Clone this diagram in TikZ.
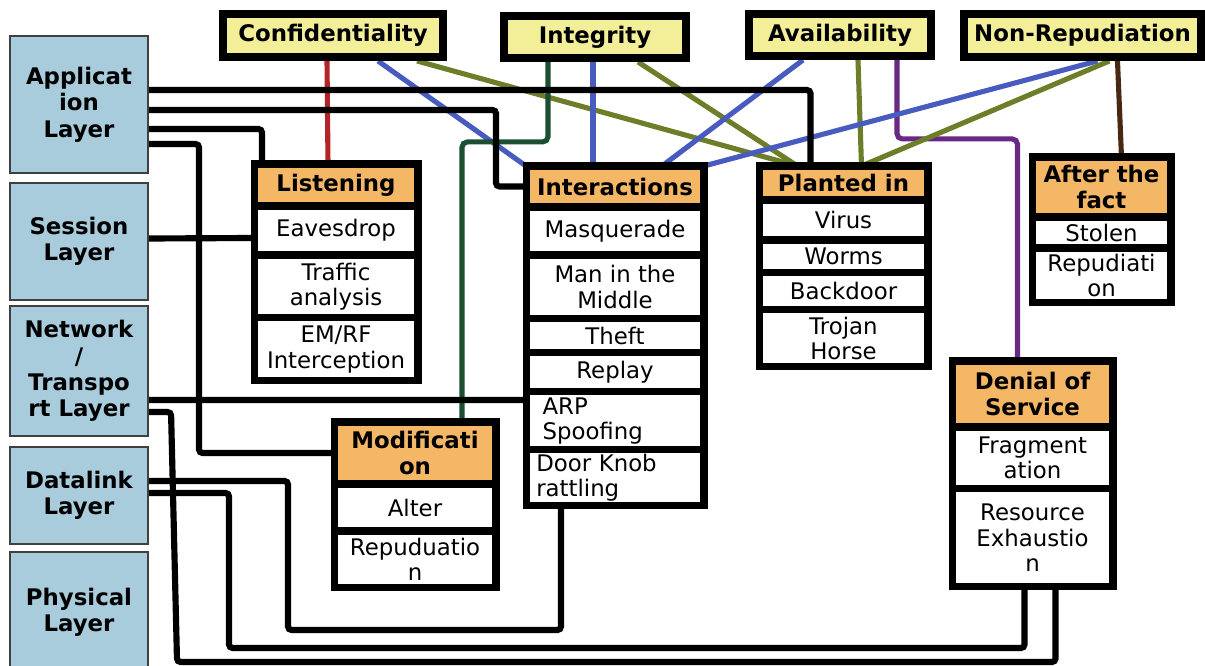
\documentclass[tikz,border=0pt]{standalone}
\usepackage{fontspec}
\setmainfont{DejaVu Sans}
\usetikzlibrary{calc,positioning,backgrounds}

\definecolor{layerblue}{RGB}{168,204,220}
\definecolor{goalyellow}{RGB}{243,238,152}
\definecolor{headorange}{RGB}{244,183,102}
\definecolor{linered}{RGB}{178,36,40}
\definecolor{lineblue}{RGB}{72,92,192}
\definecolor{lineolive}{RGB}{108,126,40}
\definecolor{linegreen}{RGB}{28,78,50}
\definecolor{linepurple}{RGB}{104,40,132}
\definecolor{linebrown}{RGB}{72,40,18}

\begin{document}
\begin{tikzpicture}[x=0.02cm, y=-0.02cm,
  every node/.style={font=\fontsize{13pt}{14.5pt}\selectfont, align=center, inner sep=0.5pt},
  layerbox/.style={draw=black!75, line width=1.2pt, fill=layerblue, minimum width=2.76cm,
    font=\bfseries\fontsize{13pt}{15pt}\selectfont},
  goalbox/.style={draw, line width=4.5pt, fill=goalyellow, font=\bfseries\fontsize{13pt}{14.5pt}\selectfont},
  headbox/.style={draw, line width=4pt, outer sep=0pt, fill=headorange, font=\bfseries\fontsize{13pt}{14.5pt}\selectfont},
  cellbox/.style={draw, line width=4pt, outer sep=0pt, fill=white},
  goal link/.style={line width=2.9pt},
  layer link/.style={line width=3.5pt, rounded corners=2pt}]

  \useasboundingbox (0,0) rectangle (1205,666);
  \clip (0,0) rectangle (1205,666);

  % OSI layers
  \node[layerbox, minimum height=2.74cm] (app) at (79,104.5) {Applicat\\ion\\Layer};
  \node[layerbox, minimum height=2.34cm] (sess) at (79,241.5) {Session\\Layer};
  \node[layerbox, minimum height=2.6cm] (net) at (79,371) {Network\\/\\Transpo\\rt Layer};
  \node[layerbox, minimum height=1.94cm] (data) at (79,495.5) {Datalink\\Layer};
  \node[layerbox, minimum height=2.4cm] (phys) at (79,612) {Physical\\Layer};

  % security goals
  \node[goalbox, minimum width=4.4cm, minimum height=0.86cm] (conf) at (333,35.5) {Confidentiality};
  \node[goalbox, minimum width=3.64cm, minimum height=0.84cm] (integ) at (595,37) {Integrity};
  \node[goalbox, minimum width=3.64cm, minimum height=0.84cm] (avail) at (840,35) {Availability};
  \node[goalbox, minimum width=4.74cm, minimum height=0.86cm] (nonrep) at (1082.5,35.5) {Non-Repudiation};

  % listening
  \node[headbox, minimum width=3.28cm, minimum height=0.84cm] (lis) at (336,185) {Listening};
  \node[cellbox, minimum width=3.28cm, minimum height=0.98cm, below=0pt of lis] (eaves) {Eavesdrop};
  \node[cellbox, minimum width=3.28cm, minimum height=1.26cm, below=0pt of eaves] (traffic) {Traffic\\analysis};
  \node[cellbox, minimum width=3.28cm, minimum height=1.26cm, below=0pt of traffic] (emrf) {EM/RF\\Interception};

  % interactions
  \node[headbox, minimum width=3.56cm, minimum height=0.82cm] (inter) at (615,186.5) {Interactions};
  \node[cellbox, minimum width=3.56cm, minimum height=0.96cm, below=0pt of inter] (masq) {Masquerade};
  \node[cellbox, minimum width=3.56cm, minimum height=1.28cm, below=0pt of masq] (mitm) {Man in the\\Middle};
  \node[cellbox, minimum width=3.56cm, minimum height=0.68cm, below=0pt of mitm] (theft) {Theft};
  \node[cellbox, minimum width=3.56cm, minimum height=0.78cm, below=0pt of theft] (replay) {Replay};
  \node[cellbox, minimum width=3.56cm, minimum height=1.16cm, below=0pt of replay, text width=2.9cm, align=left] (arp) {ARP\\Spoofing};
  \node[cellbox, minimum width=3.56cm, minimum height=1.12cm, below=0pt of arp, text width=3.15cm, align=left] (door) {Door Knob\\rattling};

  % planted in
  \node[headbox, minimum width=3.38cm, minimum height=0.68cm] (plant) at (843.5,183) {Planted in};
  \node[cellbox, minimum width=3.38cm, minimum height=0.8cm, below=0pt of plant] (virus) {Virus};
  \node[cellbox, minimum width=3.38cm, minimum height=0.66cm, below=0pt of virus] (worms) {Worms};
  \node[cellbox, minimum width=3.38cm, minimum height=0.74cm, below=0pt of worms] (backdoor) {Backdoor};
  \node[cellbox, minimum width=3.38cm, minimum height=1.14cm, below=0pt of backdoor] (trojan) {Trojan\\Horse};

  % after the fact
  \node[headbox, minimum width=2.78cm, minimum height=1.2cm] (after) at (1101.5,187) {After the\\fact};
  \node[cellbox, minimum width=2.78cm, minimum height=0.62cm, below=0pt of after] (stolen) {Stolen};
  \node[cellbox, minimum width=2.78cm, minimum height=1.1cm, below=0pt of stolen] (repud) {Repudiati\\on};

  % denial of service
  \node[headbox, minimum width=3.22cm, minimum height=1.32cm] (dos) at (1032.5,394) {Denial of\\Service};
  \node[cellbox, minimum width=3.22cm, minimum height=1.24cm, below=0pt of dos] (frag) {Fragment\\ation};
  \node[cellbox, minimum width=3.22cm, minimum height=1.96cm, below=0pt of frag] (resx) {Resource\\Exhaustio\\n};

  % modification
  \node[headbox, minimum width=3.24cm, minimum height=1.24cm] (modif) at (415,453) {Modificati\\on};
  \node[cellbox, minimum width=3.24cm, minimum height=0.94cm, below=0pt of modif] (alter) {Alter};
  \node[cellbox, minimum width=3.24cm, minimum height=1.14cm, below=0pt of alter] (repdu) {Repuduatio\\n};

  \begin{scope}[on background layer]
    % goals to attack groups
    \draw[goal link, linered] ($(conf.south)+(-6,0)$) -- ($(lis.north)+(-8,0)$);
    \draw[goal link, lineblue] ($(conf.south)+(45,0)$) -- (inter.north west);
    \draw[goal link, lineolive] ($(conf.south)+(84,0)$) -- ($(plant.north)+(-46,0)$);
    \draw[goal link, linegreen, rounded corners=3pt] ($(integ.south)+(-47,0)$) -- ++(0,80) -| ($(modif.north)+(47,0)$);
    \draw[goal link, lineblue] ($(integ.south)+(-2,0)$) -- ($(inter.north)+(-22,0)$);
    \draw[goal link, lineolive] ($(integ.south)+(43,0)$) -- ($(plant.north)+(-46,0)$);
    \draw[goal link, lineblue] ($(avail.south)+(-37,0)$) -- ($(inter.north)+(47,0)$);
    \draw[goal link, lineolive] ($(avail.south)+(18,0)$) -- ($(plant.north)+(18,0)$);
    \draw[goal link, linepurple, rounded corners=3pt] ($(avail.south)+(57,0)$) -- ++(0,79) -| ($(dos.north)+(-15,0)$);
    \draw[goal link, lineblue] ($(nonrep.south)+(15,0)$) -- (inter.north east);
    \draw[goal link, lineolive] ($(nonrep.south)+(27,0)$) -- ($(plant.north)+(18,0)$);
    \draw[goal link, linebrown] ($(nonrep.south)+(35,0)$) -- ($(after.north)+(20,0)$);

    % layers to attack groups
    \draw[layer link] ($(app.east)+(0,-14.5)$) -| ($(plant.north)+(-33,0)$);
    \draw[layer link] ($(app.east)+(0,5.5)$) -- ++(347,0) |- (inter.west);
    \draw[layer link] ($(app.east)+(0,24.5)$) -| ($(lis.north)+(-74,0)$);
    \draw[layer link] ($(app.east)+(0,39.5)$) -- ++(50,0) |- (modif.west);
    \draw[layer link] ($(sess.east)+(0,-3)$) -- ($(eaves.west)+(0,7.5)$);
    \draw[layer link] ($(net.east)+(0,29)$) -- ($(arp.west)+(0,-21)$);
    \draw[layer link] ($(net.east)+(0,41)$) -- ++(22,0) -- ++(6,250) -| ($(resx.south)+(23,0)$);
    \draw[layer link] ($(data.east)+(0,-14.5)$) -- ++(139,0) -- ++(0,149) -| ($(door.south)+(-54,0)$);
    \draw[layer link] ($(data.east)+(0,-2.5)$) -- ++(80,0) -- ++(0,155) -| ($(resx.south)+(-8,0)$);
  \end{scope}
\end{tikzpicture}
\end{document}
